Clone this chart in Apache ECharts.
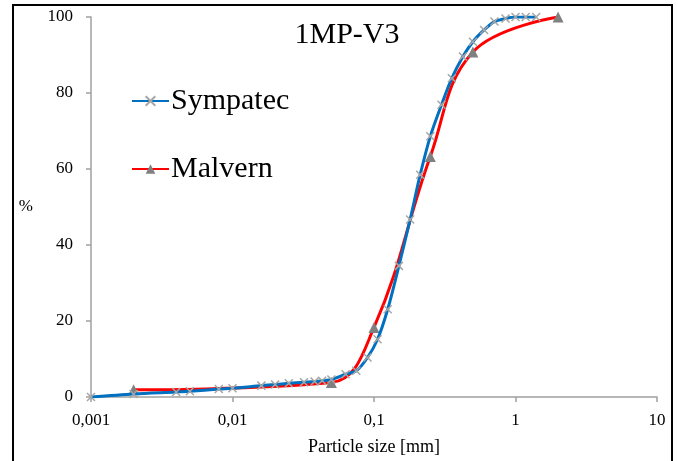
<!DOCTYPE html>
<html>
<head>
<meta charset="utf-8">
<script src="https://cdn.jsdelivr.net/npm/echarts@6/dist/echarts.min.js"></script>
<style>
  html, body { margin: 0; padding: 0; background: #fff; }
  #chart { width: 678px; height: 461px; }
</style>
</head>
<body>
<div id="chart"></div>
<script>
// Sympatec: particle size [mm] and cumulative %
const sympatecSize = [0.001, 0.002, 0.004, 0.005, 0.008, 0.01, 0.016, 0.02, 0.025, 0.032, 0.038, 0.043, 0.05,
  0.063, 0.075, 0.09, 0.106, 0.125, 0.15, 0.18, 0.212, 0.25, 0.3, 0.355, 0.425, 0.5, 0.6, 0.71, 0.85, 1, 1.18, 1.4];
const sympatecPct = [0, 0.8, 1.3, 1.5, 2.1, 2.3, 3.0, 3.3, 3.6, 3.9, 4.1, 4.3, 4.6,
  6.0, 6.9, 10.4, 15.2, 23.1, 34.5, 46.7, 58.5, 68.6, 76.9, 83.9, 89.6, 93.5, 96.6, 98.8, 99.6, 100, 100, 100];

// Malvern
const malvernSize = [0.002, 0.05, 0.1, 0.25, 0.5, 2];
const malvernPct = [1.9, 3.8, 18.3, 63.3, 90.8, 100];

const xTickLabels = ['0,001', '0,01', '0,1', '1', '10'];
const yTicks = [0, 20, 40, 60, 80, 100];

const serif = '"Liberation Serif", "Times New Roman", serif';
const axisGray = '#A0A0A0';

const chart = echarts.init(document.getElementById('chart'));

const option = {
  animation: false,
  title: {
    text: '1MP-V3',
    left: 342,
    top: 15,
    textAlign: 'center',
    textStyle: { fontFamily: serif, fontSize: 30, fontWeight: 'normal', color: '#000' }
  },
  legend: {
    orient: 'vertical',
    left: 126,
    top: 81,
    itemWidth: 37,
    itemHeight: 12,
    itemGap: 38,
    textStyle: { fontFamily: serif, fontSize: 30, color: '#000', padding: [0, 0, 0, -3] },
    data: ['Sympatec', 'Malvern']
  },
  grid: { left: 91, right: 21, top: 17, bottom: 63 },
  xAxis: {
    type: 'log',
    logBase: 10,
    min: 0.001,
    max: 10,
    name: 'Particle size [mm]',
    nameLocation: 'middle',
    nameGap: 41,
    nameTextStyle: { fontFamily: serif, fontSize: 18, color: '#000' },
    axisLine: { lineStyle: { color: axisGray, width: 1.5 } },
    axisTick: { show: true, length: 5, lineStyle: { color: axisGray, width: 1.5 } },
    minorTick: { show: false },
    splitLine: { show: false },
    axisLabel: {
      margin: 15,
      fontFamily: serif,
      fontSize: 17,
      color: '#000',
      formatter: (v, i) => xTickLabels[i] ?? ''
    }
  },
  yAxis: {
    type: 'value',
    min: yTicks[0],
    max: yTicks[yTicks.length - 1],
    interval: 20,
    name: '%',
    nameLocation: 'middle',
    nameRotate: 0,
    nameGap: 58,
    nameTextStyle: { fontFamily: serif, fontSize: 17, color: '#000' },
    axisLine: { show: true, lineStyle: { color: axisGray, width: 1.5 } },
    axisTick: { show: true, length: 5, lineStyle: { color: axisGray, width: 1.5 } },
    splitLine: { show: false },
    axisLabel: { margin: 18, fontFamily: serif, fontSize: 17, color: '#000' }
  },
  graphic: [{
    type: 'rect',
    shape: { x: 13, y: 5, width: 659, height: 480 },
    style: { fill: 'none', stroke: '#000', lineWidth: 2 },
    silent: true
  }],
  series: [
    {
      name: 'Sympatec',
      type: 'line',
      smooth: 0.3,
      data: sympatecSize.map((d, i) => [d, sympatecPct[i]]),
      symbol: 'path://M0,0L10,10M10,0L0,10',
      symbolSize: 8,
      showAllSymbol: true,
      lineStyle: { color: '#0070C0', width: 3 },
      itemStyle: { color: 'rgba(0,0,0,0)', borderColor: '#A6A6A6', borderWidth: 1.5 },
      z: 3
    },
    {
      name: 'Malvern',
      type: 'line',
      smooth: 0.4,
      data: malvernSize.map((d, i) => [d, malvernPct[i]]),
      symbol: 'triangle',
      symbolSize: 11,
      lineStyle: { color: '#FF0000', width: 3 },
      itemStyle: { color: '#808080' },
      z: 2
    }
  ]
};

chart.setOption(option);
</script>
</body>
</html>
